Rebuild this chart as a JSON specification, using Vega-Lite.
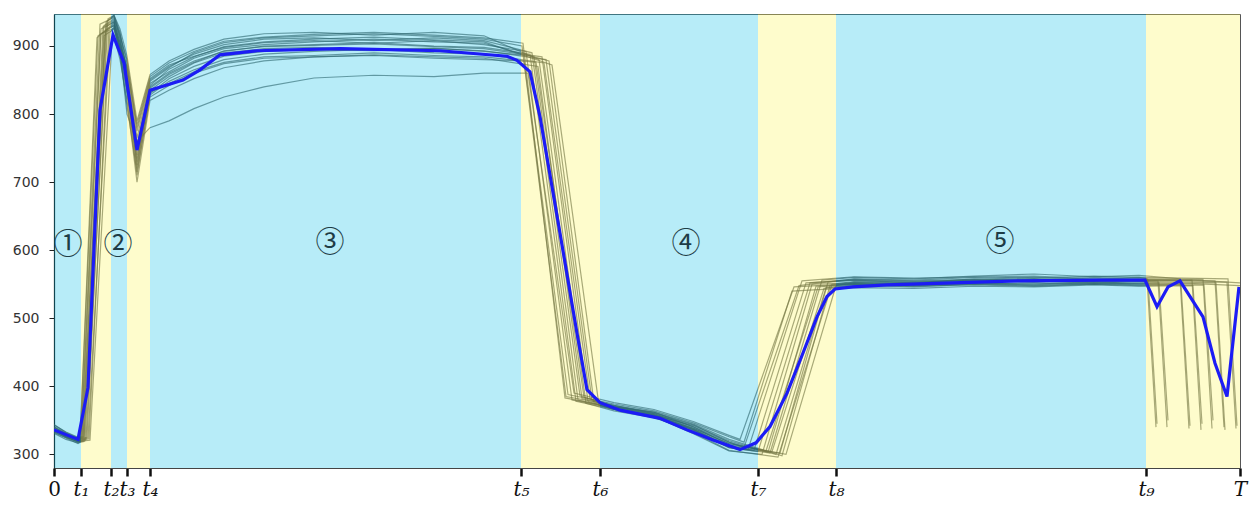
{
  "$schema": "https://vega.github.io/schema/vega-lite/v6.json",
  "width": 1186,
  "height": 454,
  "autosize": {"type": "none"},
  "padding": {"left": 54, "top": 14, "right": 11, "bottom": 37},
  "background": "white",
  "config": {"view": {"stroke": "#555", "strokeWidth": 1}},
  "datasets": {
    "bands": [
      {"x0": 0, "x1": 27, "c": "b"}, {"x0": 27, "x1": 57, "c": "y"}, {"x0": 57, "x1": 73, "c": "b"},
      {"x0": 73, "x1": 96, "c": "y"}, {"x0": 96, "x1": 467, "c": "b"}, {"x0": 467, "x1": 546, "c": "y"},
      {"x0": 546, "x1": 704, "c": "b"}, {"x0": 704, "x1": 782, "c": "y"}, {"x0": 782, "x1": 1092, "c": "b"},
      {"x0": 1092, "x1": 1186, "c": "y"}
    ],
    "labels": [
      {"x": 14, "y": 608, "t": "①"}, {"x": 64, "y": 608, "t": "②"}, {"x": 276, "y": 611, "t": "③"},
      {"x": 632, "y": 609, "t": "④"}, {"x": 946, "y": 612, "t": "⑤"}
    ],
    "mean": [
      {"x": 0, "y": 336}, {"x": 24, "y": 322}, {"x": 34, "y": 398}, {"x": 46, "y": 806}, {"x": 59, "y": 916},
      {"x": 70, "y": 875}, {"x": 83, "y": 747}, {"x": 96, "y": 835}, {"x": 129, "y": 850}, {"x": 146, "y": 865},
      {"x": 166, "y": 887}, {"x": 203, "y": 893}, {"x": 286, "y": 896}, {"x": 386, "y": 893}, {"x": 453, "y": 885},
      {"x": 463, "y": 879}, {"x": 476, "y": 862}, {"x": 486, "y": 796}, {"x": 506, "y": 625}, {"x": 523, "y": 478},
      {"x": 533, "y": 395}, {"x": 546, "y": 376}, {"x": 566, "y": 365}, {"x": 606, "y": 353}, {"x": 633, "y": 336},
      {"x": 659, "y": 321}, {"x": 686, "y": 307}, {"x": 702, "y": 317}, {"x": 716, "y": 341}, {"x": 733, "y": 390},
      {"x": 749, "y": 449}, {"x": 763, "y": 502}, {"x": 773, "y": 532}, {"x": 781, "y": 543}, {"x": 799, "y": 546},
      {"x": 833, "y": 549}, {"x": 899, "y": 552}, {"x": 966, "y": 555}, {"x": 1046, "y": 556}, {"x": 1091, "y": 556},
      {"x": 1103, "y": 517}, {"x": 1114, "y": 546}, {"x": 1126, "y": 555}, {"x": 1149, "y": 502}, {"x": 1161, "y": 434},
      {"x": 1173, "y": 385}, {"x": 1185, "y": 546}
    ],
    "traj": [
      {"id":1,"x":0,"y":340},{"id":1,"x":12,"y":330},{"id":1,"x":24,"y":321},{"id":1,"x":27,"y":322},{"id":1,"x":47,"y":925},{"id":1,"x":60,"y":935},{"id":1,"x":66,"y":905},{"id":1,"x":73,"y":870},{"id":1,"x":83,"y":765},{"id":1,"x":96,"y":848},{"id":1,"x":115,"y":868},{"id":1,"x":140,"y":890},{"id":1,"x":170,"y":905},{"id":1,"x":210,"y":912},{"id":1,"x":260,"y":915},{"id":1,"x":320,"y":918},{"id":1,"x":380,"y":914},{"id":1,"x":430,"y":910},{"id":1,"x":468,"y":900},{"id":1,"x":512,"y":385},{"id":1,"x":560,"y":372},{"id":1,"x":600,"y":362},{"id":1,"x":640,"y":340},{"id":1,"x":675,"y":318},{"id":1,"x":690,"y":310},{"id":1,"x":745,"y":548},{"id":1,"x":800,"y":558},{"id":1,"x":860,"y":556},{"id":1,"x":920,"y":560},{"id":1,"x":980,"y":562},{"id":1,"x":1040,"y":558},{"id":1,"x":1085,"y":560},{"id":1,"x":1093,"y":558},{"id":1,"x":1102,"y":340},
      {"id":2,"x":0,"y":336},{"id":2,"x":12,"y":326},{"id":2,"x":24,"y":318},{"id":2,"x":28,"y":320},{"id":2,"x":50,"y":930},{"id":2,"x":60,"y":940},{"id":2,"x":66,"y":915},{"id":2,"x":73,"y":880},{"id":2,"x":83,"y":780},{"id":2,"x":96,"y":852},{"id":2,"x":115,"y":872},{"id":2,"x":140,"y":885},{"id":2,"x":170,"y":898},{"id":2,"x":210,"y":905},{"id":2,"x":260,"y":908},{"id":2,"x":320,"y":904},{"id":2,"x":380,"y":908},{"id":2,"x":430,"y":902},{"id":2,"x":472,"y":892},{"id":2,"x":518,"y":380},{"id":2,"x":560,"y":368},{"id":2,"x":600,"y":358},{"id":2,"x":640,"y":336},{"id":2,"x":675,"y":312},{"id":2,"x":700,"y":306},{"id":2,"x":752,"y":552},{"id":2,"x":800,"y":556},{"id":2,"x":860,"y":552},{"id":2,"x":920,"y":558},{"id":2,"x":980,"y":555},{"id":2,"x":1040,"y":560},{"id":2,"x":1085,"y":557},{"id":2,"x":1094,"y":556},{"id":2,"x":1103,"y":345},
      {"id":3,"x":0,"y":344},{"id":3,"x":12,"y":332},{"id":3,"x":24,"y":324},{"id":3,"x":30,"y":326},{"id":3,"x":52,"y":935},{"id":3,"x":60,"y":945},{"id":3,"x":66,"y":920},{"id":3,"x":73,"y":860},{"id":3,"x":83,"y":740},{"id":3,"x":96,"y":840},{"id":3,"x":115,"y":860},{"id":3,"x":140,"y":878},{"id":3,"x":170,"y":892},{"id":3,"x":210,"y":900},{"id":3,"x":260,"y":902},{"id":3,"x":320,"y":905},{"id":3,"x":380,"y":900},{"id":3,"x":430,"y":898},{"id":3,"x":476,"y":888},{"id":3,"x":522,"y":378},{"id":3,"x":560,"y":366},{"id":3,"x":600,"y":356},{"id":3,"x":640,"y":330},{"id":3,"x":675,"y":305},{"id":3,"x":708,"y":300},{"id":3,"x":758,"y":550},{"id":3,"x":800,"y":552},{"id":3,"x":860,"y":550},{"id":3,"x":920,"y":554},{"id":3,"x":980,"y":556},{"id":3,"x":1040,"y":553},{"id":3,"x":1085,"y":555},{"id":3,"x":1104,"y":555},{"id":3,"x":1113,"y":340},
      {"id":4,"x":0,"y":332},{"id":4,"x":12,"y":324},{"id":4,"x":24,"y":316},{"id":4,"x":26,"y":318},{"id":4,"x":44,"y":915},{"id":4,"x":60,"y":930},{"id":4,"x":66,"y":900},{"id":4,"x":73,"y":845},{"id":4,"x":83,"y":720},{"id":4,"x":96,"y":835},{"id":4,"x":115,"y":855},{"id":4,"x":140,"y":875},{"id":4,"x":170,"y":890},{"id":4,"x":210,"y":896},{"id":4,"x":260,"y":898},{"id":4,"x":320,"y":895},{"id":4,"x":380,"y":897},{"id":4,"x":430,"y":892},{"id":4,"x":480,"y":885},{"id":4,"x":526,"y":386},{"id":4,"x":560,"y":370},{"id":4,"x":600,"y":360},{"id":4,"x":640,"y":338},{"id":4,"x":675,"y":316},{"id":4,"x":712,"y":305},{"id":4,"x":764,"y":546},{"id":4,"x":800,"y":550},{"id":4,"x":860,"y":548},{"id":4,"x":920,"y":552},{"id":4,"x":980,"y":550},{"id":4,"x":1040,"y":554},{"id":4,"x":1085,"y":551},{"id":4,"x":1105,"y":552},{"id":4,"x":1114,"y":350},
      {"id":5,"x":0,"y":338},{"id":5,"x":12,"y":327},{"id":5,"x":24,"y":320},{"id":5,"x":32,"y":322},{"id":5,"x":54,"y":940},{"id":5,"x":60,"y":945},{"id":5,"x":66,"y":925},{"id":5,"x":73,"y":885},{"id":5,"x":83,"y":790},{"id":5,"x":96,"y":858},{"id":5,"x":115,"y":878},{"id":5,"x":140,"y":895},{"id":5,"x":170,"y":910},{"id":5,"x":210,"y":918},{"id":5,"x":260,"y":920},{"id":5,"x":320,"y":916},{"id":5,"x":380,"y":920},{"id":5,"x":430,"y":915},{"id":5,"x":485,"y":880},{"id":5,"x":532,"y":375},{"id":5,"x":560,"y":364},{"id":5,"x":600,"y":354},{"id":5,"x":640,"y":334},{"id":5,"x":675,"y":310},{"id":5,"x":716,"y":302},{"id":5,"x":768,"y":556},{"id":5,"x":800,"y":560},{"id":5,"x":860,"y":558},{"id":5,"x":920,"y":562},{"id":5,"x":980,"y":565},{"id":5,"x":1040,"y":561},{"id":5,"x":1085,"y":563},{"id":5,"x":1126,"y":558},{"id":5,"x":1135,"y":338},
      {"id":6,"x":0,"y":335},{"id":6,"x":12,"y":329},{"id":6,"x":24,"y":322},{"id":6,"x":34,"y":324},{"id":6,"x":56,"y":920},{"id":6,"x":60,"y":928},{"id":6,"x":66,"y":890},{"id":6,"x":73,"y":830},{"id":6,"x":83,"y":710},{"id":6,"x":96,"y":828},{"id":6,"x":115,"y":848},{"id":6,"x":140,"y":865},{"id":6,"x":170,"y":880},{"id":6,"x":210,"y":888},{"id":6,"x":260,"y":892},{"id":6,"x":320,"y":895},{"id":6,"x":380,"y":890},{"id":6,"x":430,"y":888},{"id":6,"x":490,"y":875},{"id":6,"x":536,"y":382},{"id":6,"x":560,"y":370},{"id":6,"x":600,"y":358},{"id":6,"x":640,"y":342},{"id":6,"x":675,"y":320},{"id":6,"x":722,"y":300},{"id":6,"x":772,"y":545},{"id":6,"x":800,"y":549},{"id":6,"x":860,"y":546},{"id":6,"x":920,"y":550},{"id":6,"x":980,"y":548},{"id":6,"x":1040,"y":551},{"id":6,"x":1085,"y":549},{"id":6,"x":1127,"y":550},{"id":6,"x":1136,"y":342},
      {"id":7,"x":0,"y":341},{"id":7,"x":12,"y":331},{"id":7,"x":24,"y":323},{"id":7,"x":29,"y":324},{"id":7,"x":49,"y":928},{"id":7,"x":60,"y":938},{"id":7,"x":66,"y":910},{"id":7,"x":73,"y":865},{"id":7,"x":83,"y":755},{"id":7,"x":96,"y":845},{"id":7,"x":115,"y":862},{"id":7,"x":140,"y":882},{"id":7,"x":170,"y":896},{"id":7,"x":210,"y":902},{"id":7,"x":260,"y":906},{"id":7,"x":320,"y":910},{"id":7,"x":380,"y":906},{"id":7,"x":430,"y":904},{"id":7,"x":495,"y":878},{"id":7,"x":540,"y":376},{"id":7,"x":560,"y":370},{"id":7,"x":600,"y":362},{"id":7,"x":640,"y":344},{"id":7,"x":675,"y":322},{"id":7,"x":728,"y":298},{"id":7,"x":776,"y":548},{"id":7,"x":800,"y":553},{"id":7,"x":860,"y":552},{"id":7,"x":920,"y":556},{"id":7,"x":980,"y":553},{"id":7,"x":1040,"y":557},{"id":7,"x":1085,"y":555},{"id":7,"x":1138,"y":556},{"id":7,"x":1147,"y":336},
      {"id":8,"x":0,"y":333},{"id":8,"x":12,"y":325},{"id":8,"x":24,"y":319},{"id":8,"x":36,"y":321},{"id":8,"x":58,"y":910},{"id":8,"x":60,"y":915},{"id":8,"x":66,"y":880},{"id":8,"x":73,"y":820},{"id":8,"x":83,"y":700},{"id":8,"x":96,"y":820},{"id":8,"x":115,"y":835},{"id":8,"x":140,"y":852},{"id":8,"x":170,"y":868},{"id":8,"x":210,"y":878},{"id":8,"x":260,"y":884},{"id":8,"x":320,"y":886},{"id":8,"x":380,"y":882},{"id":8,"x":430,"y":880},{"id":8,"x":470,"y":878},{"id":8,"x":514,"y":388},{"id":8,"x":560,"y":374},{"id":8,"x":600,"y":364},{"id":8,"x":640,"y":346},{"id":8,"x":675,"y":326},{"id":8,"x":690,"y":318},{"id":8,"x":738,"y":540},{"id":8,"x":800,"y":545},{"id":8,"x":860,"y":544},{"id":8,"x":920,"y":547},{"id":8,"x":980,"y":546},{"id":8,"x":1040,"y":549},{"id":8,"x":1085,"y":547},{"id":8,"x":1139,"y":548},{"id":8,"x":1148,"y":345},
      {"id":9,"x":0,"y":339},{"id":9,"x":12,"y":328},{"id":9,"x":24,"y":321},{"id":9,"x":27,"y":323},{"id":9,"x":46,"y":932},{"id":9,"x":60,"y":942},{"id":9,"x":66,"y":918},{"id":9,"x":73,"y":875},{"id":9,"x":83,"y":775},{"id":9,"x":96,"y":850},{"id":9,"x":115,"y":870},{"id":9,"x":140,"y":888},{"id":9,"x":170,"y":902},{"id":9,"x":210,"y":910},{"id":9,"x":260,"y":912},{"id":9,"x":320,"y":908},{"id":9,"x":380,"y":912},{"id":9,"x":430,"y":908},{"id":9,"x":478,"y":890},{"id":9,"x":524,"y":380},{"id":9,"x":560,"y":367},{"id":9,"x":600,"y":357},{"id":9,"x":640,"y":335},{"id":9,"x":675,"y":310},{"id":9,"x":704,"y":304},{"id":9,"x":756,"y":552},{"id":9,"x":800,"y":557},{"id":9,"x":860,"y":555},{"id":9,"x":920,"y":557},{"id":9,"x":980,"y":560},{"id":9,"x":1040,"y":556},{"id":9,"x":1085,"y":558},{"id":9,"x":1149,"y":557},{"id":9,"x":1158,"y":338},
      {"id":10,"x":0,"y":337},{"id":10,"x":12,"y":326},{"id":10,"x":24,"y":318},{"id":10,"x":31,"y":320},{"id":10,"x":51,"y":922},{"id":10,"x":60,"y":932},{"id":10,"x":66,"y":898},{"id":10,"x":73,"y":850},{"id":10,"x":83,"y":735},{"id":10,"x":96,"y":832},{"id":10,"x":115,"y":845},{"id":10,"x":140,"y":862},{"id":10,"x":170,"y":876},{"id":10,"x":210,"y":884},{"id":10,"x":260,"y":886},{"id":10,"x":320,"y":890},{"id":10,"x":380,"y":886},{"id":10,"x":430,"y":884},{"id":10,"x":482,"y":876},{"id":10,"x":530,"y":384},{"id":10,"x":560,"y":372},{"id":10,"x":600,"y":360},{"id":10,"x":640,"y":340},{"id":10,"x":675,"y":314},{"id":10,"x":718,"y":304},{"id":10,"x":770,"y":544},{"id":10,"x":800,"y":548},{"id":10,"x":860,"y":547},{"id":10,"x":920,"y":549},{"id":10,"x":980,"y":547},{"id":10,"x":1040,"y":550},{"id":10,"x":1085,"y":548},{"id":10,"x":1150,"y":549},{"id":10,"x":1159,"y":350},
      {"id":11,"x":0,"y":334},{"id":11,"x":12,"y":328},{"id":11,"x":24,"y":323},{"id":11,"x":33,"y":325},{"id":11,"x":53,"y":936},{"id":11,"x":60,"y":944},{"id":11,"x":66,"y":912},{"id":11,"x":73,"y":840},{"id":11,"x":83,"y":725},{"id":11,"x":96,"y":838},{"id":11,"x":115,"y":858},{"id":11,"x":140,"y":876},{"id":11,"x":170,"y":893},{"id":11,"x":210,"y":899},{"id":11,"x":260,"y":901},{"id":11,"x":320,"y":903},{"id":11,"x":380,"y":899},{"id":11,"x":430,"y":896},{"id":11,"x":488,"y":884},{"id":11,"x":534,"y":378},{"id":11,"x":560,"y":366},{"id":11,"x":600,"y":355},{"id":11,"x":640,"y":332},{"id":11,"x":675,"y":306},{"id":11,"x":724,"y":296},{"id":11,"x":778,"y":550},{"id":11,"x":800,"y":554},{"id":11,"x":860,"y":553},{"id":11,"x":920,"y":555},{"id":11,"x":980,"y":557},{"id":11,"x":1040,"y":554},{"id":11,"x":1085,"y":556},{"id":11,"x":1161,"y":555},{"id":11,"x":1170,"y":340},
      {"id":12,"x":0,"y":343},{"id":12,"x":12,"y":333},{"id":12,"x":24,"y":325},{"id":12,"x":28,"y":326},{"id":12,"x":47,"y":918},{"id":12,"x":60,"y":926},{"id":12,"x":66,"y":895},{"id":12,"x":73,"y":800},{"id":12,"x":83,"y":760},{"id":12,"x":96,"y":780},{"id":12,"x":115,"y":790},{"id":12,"x":140,"y":808},{"id":12,"x":170,"y":825},{"id":12,"x":210,"y":840},{"id":12,"x":260,"y":853},{"id":12,"x":320,"y":857},{"id":12,"x":380,"y":855},{"id":12,"x":430,"y":860},{"id":12,"x":474,"y":860},{"id":12,"x":520,"y":390},{"id":12,"x":560,"y":376},{"id":12,"x":600,"y":366},{"id":12,"x":640,"y":348},{"id":12,"x":675,"y":328},{"id":12,"x":686,"y":322},{"id":12,"x":740,"y":546},{"id":12,"x":800,"y":551},{"id":12,"x":860,"y":549},{"id":12,"x":920,"y":551},{"id":12,"x":980,"y":552},{"id":12,"x":1040,"y":550},{"id":12,"x":1085,"y":552},{"id":12,"x":1162,"y":552},{"id":12,"x":1171,"y":336},
      {"id":13,"x":0,"y":331},{"id":13,"x":12,"y":322},{"id":13,"x":24,"y":317},{"id":13,"x":30,"y":319},{"id":13,"x":52,"y":928},{"id":13,"x":60,"y":936},{"id":13,"x":66,"y":905},{"id":13,"x":73,"y":855},{"id":13,"x":83,"y":750},{"id":13,"x":96,"y":842},{"id":13,"x":115,"y":866},{"id":13,"x":140,"y":884},{"id":13,"x":170,"y":899},{"id":13,"x":210,"y":906},{"id":13,"x":260,"y":910},{"id":13,"x":320,"y":913},{"id":13,"x":380,"y":909},{"id":13,"x":430,"y":906},{"id":13,"x":498,"y":872},{"id":13,"x":545,"y":372},{"id":13,"x":560,"y":366},{"id":13,"x":600,"y":357},{"id":13,"x":640,"y":338},{"id":13,"x":675,"y":316},{"id":13,"x":732,"y":300},{"id":13,"x":782,"y":548},{"id":13,"x":800,"y":552},{"id":13,"x":860,"y":550},{"id":13,"x":920,"y":553},{"id":13,"x":980,"y":555},{"id":13,"x":1040,"y":552},{"id":13,"x":1085,"y":554},{"id":13,"x":1173,"y":553},{"id":13,"x":1182,"y":338},
      {"id":14,"x":0,"y":340},{"id":14,"x":12,"y":330},{"id":14,"x":24,"y":320},{"id":14,"x":26,"y":321},{"id":14,"x":43,"y":912},{"id":14,"x":60,"y":934},{"id":14,"x":66,"y":900},{"id":14,"x":73,"y":868},{"id":14,"x":83,"y":785},{"id":14,"x":96,"y":855},{"id":14,"x":115,"y":875},{"id":14,"x":140,"y":892},{"id":14,"x":170,"y":907},{"id":14,"x":210,"y":913},{"id":14,"x":260,"y":917},{"id":14,"x":320,"y":920},{"id":14,"x":380,"y":916},{"id":14,"x":430,"y":912},{"id":14,"x":469,"y":904},{"id":14,"x":511,"y":383},{"id":14,"x":560,"y":369},{"id":14,"x":600,"y":359},{"id":14,"x":640,"y":337},{"id":14,"x":675,"y":313},{"id":14,"x":694,"y":307},{"id":14,"x":748,"y":555},{"id":14,"x":800,"y":561},{"id":14,"x":860,"y":559},{"id":14,"x":920,"y":561},{"id":14,"x":980,"y":559},{"id":14,"x":1040,"y":562},{"id":14,"x":1085,"y":560},{"id":14,"x":1174,"y":558},{"id":14,"x":1183,"y":342},
      {"id":15,"x":0,"y":336},{"id":15,"x":12,"y":327},{"id":15,"x":24,"y":321},{"id":15,"x":35,"y":323},{"id":15,"x":55,"y":926},{"id":15,"x":60,"y":930},{"id":15,"x":66,"y":895},{"id":15,"x":73,"y":835},{"id":15,"x":83,"y":730},{"id":15,"x":96,"y":830},{"id":15,"x":115,"y":852},{"id":15,"x":140,"y":870},{"id":15,"x":170,"y":885},{"id":15,"x":210,"y":892},{"id":15,"x":260,"y":895},{"id":15,"x":320,"y":893},{"id":15,"x":380,"y":896},{"id":15,"x":430,"y":893},{"id":15,"x":492,"y":880},{"id":15,"x":538,"y":379},{"id":15,"x":560,"y":368},{"id":15,"x":600,"y":356},{"id":15,"x":640,"y":336},{"id":15,"x":675,"y":311},{"id":15,"x":726,"y":302},{"id":15,"x":774,"y":553},{"id":15,"x":800,"y":556},{"id":15,"x":860,"y":554},{"id":15,"x":920,"y":556},{"id":15,"x":980,"y":558},{"id":15,"x":1040,"y":555},{"id":15,"x":1085,"y":557},{"id":15,"x":1140,"y":556},{"id":15,"x":1186,"y":552},
      {"id":16,"x":0,"y":334},{"id":16,"x":12,"y":325},{"id":16,"x":24,"y":319},{"id":16,"x":29,"y":320},{"id":16,"x":50,"y":915},{"id":16,"x":60,"y":925},{"id":16,"x":66,"y":888},{"id":16,"x":73,"y":812},{"id":16,"x":83,"y":715},{"id":16,"x":96,"y":825},{"id":16,"x":115,"y":842},{"id":16,"x":140,"y":860},{"id":16,"x":170,"y":874},{"id":16,"x":210,"y":882},{"id":16,"x":260,"y":884},{"id":16,"x":320,"y":887},{"id":16,"x":380,"y":884},{"id":16,"x":430,"y":882},{"id":16,"x":484,"y":870},{"id":16,"x":528,"y":382},{"id":16,"x":560,"y":371},{"id":16,"x":600,"y":361},{"id":16,"x":640,"y":343},{"id":16,"x":675,"y":318},{"id":16,"x":714,"y":303},{"id":16,"x":762,"y":547},{"id":16,"x":800,"y":550},{"id":16,"x":860,"y":548},{"id":16,"x":920,"y":551},{"id":16,"x":980,"y":549},{"id":16,"x":1040,"y":552},{"id":16,"x":1085,"y":550},{"id":16,"x":1140,"y":551},{"id":16,"x":1186,"y":548}
    ]
  },
  "encoding": {
    "x": {
      "type": "quantitative",
      "scale": {"domain": [0, 1186], "nice": false, "zero": false},
      "axis": {
        "title": null, "grid": false,
        "values": [0, 27, 57, 73, 96, 467, 546, 704, 782, 1092, 1186],
        "labelExpr": "datum.value == 0 ? '0' : datum.value == 27 ? 't₁' : datum.value == 57 ? 't₂' : datum.value == 73 ? 't₃' : datum.value == 96 ? 't₄' : datum.value == 467 ? 't₅' : datum.value == 546 ? 't₆' : datum.value == 704 ? 't₇' : datum.value == 782 ? 't₈' : datum.value == 1092 ? 't₉' : 'T'",
        "labelFont": "DejaVu Serif", "labelFontSize": 20, "labelColor": "#111",
        "labelFontStyle": {"condition": {"test": "datum.value == 0", "value": "normal"}, "value": "italic"},
        "labelOverlap": false, "labelBound": false, "labelFlush": false, "labelPadding": 3,
        "tickSize": 8, "tickWidth": 2.5, "tickColor": "#111",
        "domainColor": "#444", "domainWidth": 1.2
      }
    },
    "y": {
      "type": "quantitative",
      "scale": {"domain": [280, 947], "nice": false, "zero": false},
      "axis": {
        "title": null, "grid": false,
        "values": [300, 400, 500, 600, 700, 800, 900],
        "labelFont": "DejaVu Sans", "labelFontSize": 14, "labelColor": "#333",
        "labelPadding": 10, "tickSize": 5, "tickColor": "#222", "domainColor": "#111", "domainWidth": 1.2
      }
    }
  },
  "layer": [
    {
      "data": {"name": "traj"},
      "mark": {"type": "line", "stroke": "#3a403c", "strokeWidth": 1.2, "opacity": 0.62, "clip": true},
      "encoding": {"x": {"field": "x"}, "y": {"field": "y"}, "detail": {"field": "id"}}
    },
    {
      "data": {"name": "bands"},
      "mark": {"type": "rect", "opacity": 0.3},
      "encoding": {
        "x": {"field": "x0"}, "x2": {"field": "x1"}, "y": {"value": 0}, "y2": {"value": 454},
        "color": {"field": "c", "type": "nominal", "scale": {"domain": ["b", "y"], "range": ["#12c0e8", "#fcf555"]}, "legend": null}
      }
    },
    {
      "data": {"name": "mean"},
      "mark": {"type": "line", "stroke": "#1c1cf5", "strokeWidth": 3.2, "clip": true},
      "encoding": {"x": {"field": "x"}, "y": {"field": "y"}}
    },
    {
      "data": {"name": "labels"},
      "mark": {"type": "text", "font": "Noto Sans CJK JP", "fontSize": 29, "color": "#1e3c46", "align": "center", "baseline": "middle"},
      "encoding": {"x": {"field": "x"}, "y": {"field": "y"}, "text": {"field": "t"}}
    }
  ]
}
